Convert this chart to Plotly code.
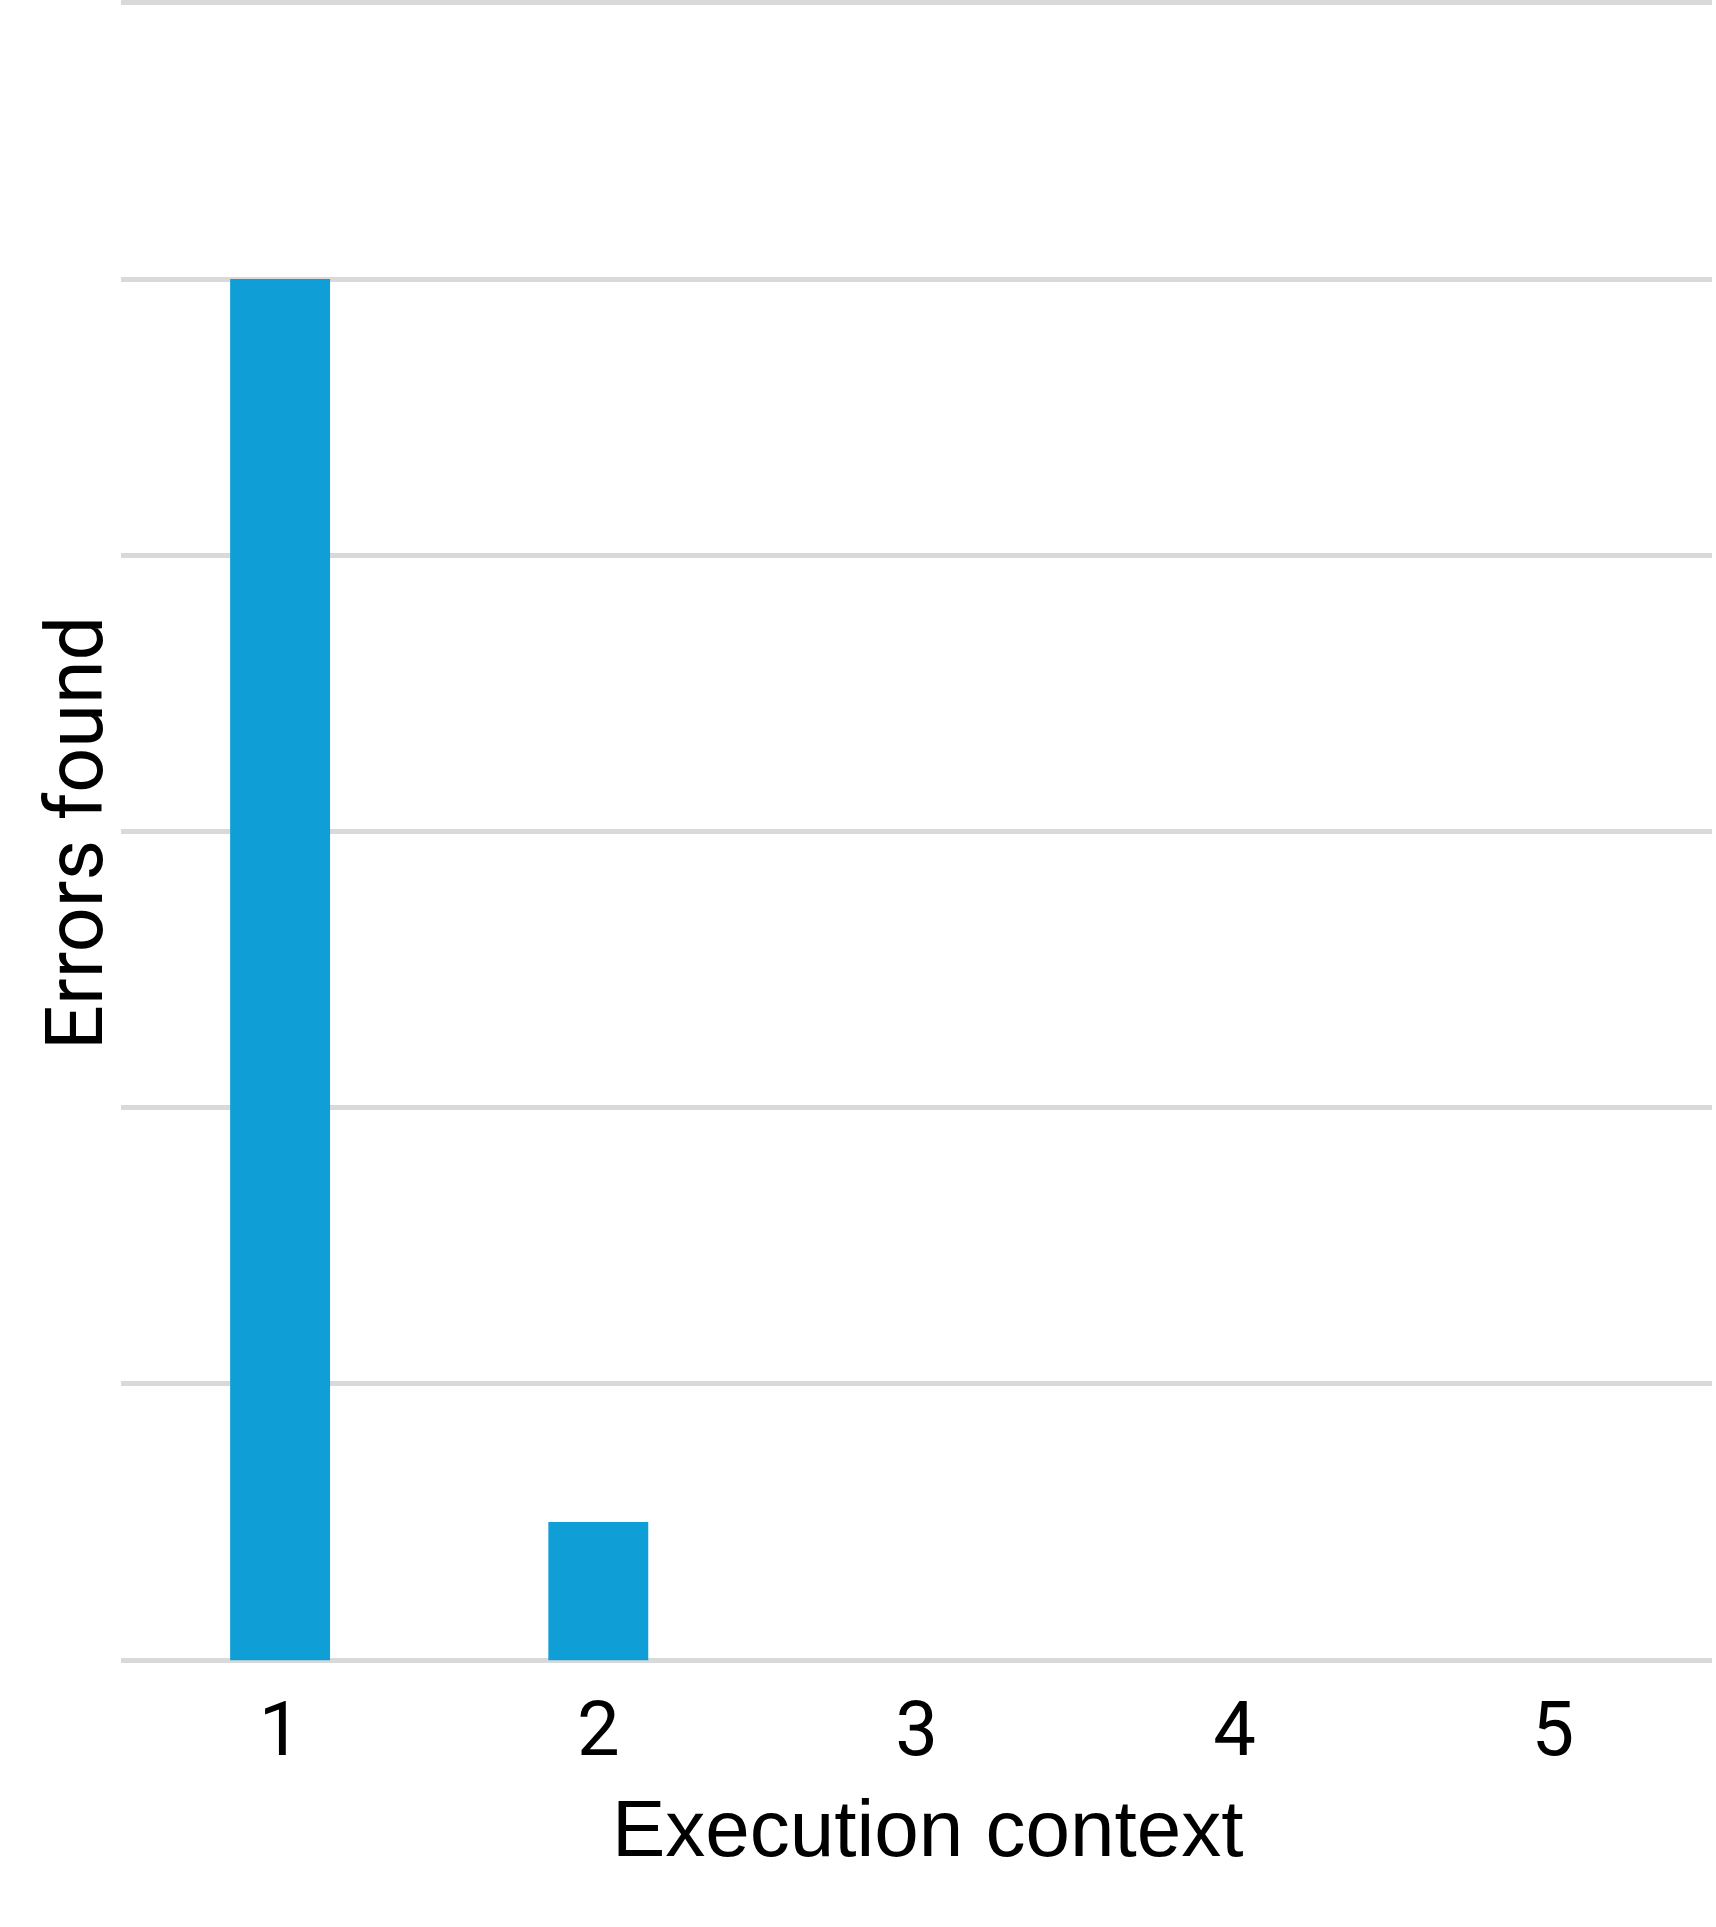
import plotly.graph_objects as go

contexts = [1, 2, 3, 4, 5]  # execution context
errors = [5, 0.5, 0, 0, 0]  # errors found

figure = go.Figure(data=[
    go.Bar(x=contexts,
           y=errors,
           marker_color="#109ed6",
           marker_line_width=0,
           ),
])

figure.update_layout(
    width=1716,
    height=1927,
    margin={'l': 121, 'r': 4, 't': 0, 'b': 264},
    bargap=0.686,
    plot_bgcolor="white",
    paper_bgcolor="white",
    showlegend=False,
    font={
        'family': "Roboto",
        'size': 76,
        'color': "black",
    },
    xaxis={
        'range': [0.5, 5.5],
        'tickmode': 'array',
        'tickvals': contexts,
        'ticktext': [str(c) for c in contexts],
        'ticklabelstandoff': 15,
        'showgrid': False,
        'zeroline': False,
        'showline': False,
        'ticks': '',
    },
    yaxis={
        # range a hair past 0 and 6 so the edge gridlines are still drawn
        'range': [-0.01, 6.01],
        'dtick': 1,
        'showticklabels': False,
        'showgrid': True,
        'gridcolor': "#d9d9d9",
        'gridwidth': 5,
        'zeroline': False,
        'showline': False,
        'ticks': '',
    },
    annotations=[
        {
            'text': "Execution context",
            'font': {'family': "Liberation Sans, Arial", 'size': 80},
            'xref': 'paper',
            'yref': 'paper',
            'x': 0.507,
            'y': -0.0995,
            'xanchor': 'center',
            'yanchor': 'middle',
            'showarrow': False,
        },
        {
            'text': "Errors found",
            'font': {'size': 79},
            'textangle': -90,
            'xref': 'paper',
            'yref': 'paper',
            'x': -0.029,
            'y': 0.499,
            'xanchor': 'center',
            'yanchor': 'middle',
            'showarrow': False,
        },
    ],
)
figure.write_html("out.html", config={'displayModeBar': False},
                  post_script="document.body.style.margin = '0px';")
